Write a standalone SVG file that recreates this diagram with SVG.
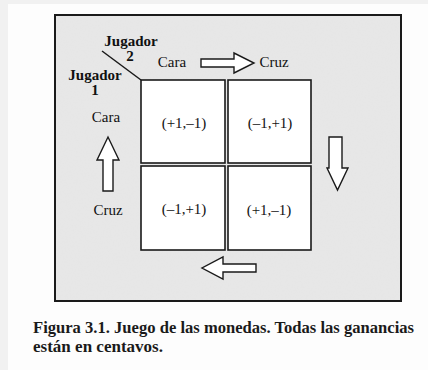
<svg xmlns="http://www.w3.org/2000/svg" width="428" height="370" viewBox="0 0 428 370">
<defs>
<filter id="grain" x="0" y="0" width="100%" height="100%">
<feTurbulence type="fractalNoise" baseFrequency="0.6" numOctaves="2" seed="3" result="n"/>
<feColorMatrix type="matrix" values="0 0 0 0 0.55  0 0 0 0 0.55  0 0 0 0 0.55  0 0 0 -1.6 0.9" in="n" result="m"/>
<feComposite in="m" in2="SourceGraphic" operator="in"/>
</filter>
</defs>
<style>
.lbl{font-family:"Liberation Serif","Times New Roman",serif;font-size:15px;fill:#111}
.b{font-weight:bold}
.cell{fill:#fff;stroke:#1a1a1a;stroke-width:1.6}
.arr{fill:#fff;stroke:#1a1a1a;stroke-width:1.4;stroke-linejoin:miter}
.val{font-family:"Liberation Serif","Times New Roman",serif;font-size:15px;fill:#111;text-anchor:middle}
.cap{font-family:"Liberation Serif","Times New Roman",serif;font-size:16.5px;font-weight:bold;fill:#1a1a1a}
</style>
<rect x="0" y="0" width="428" height="370" fill="#fdfdfd"/>
<rect x="0" y="0" width="8" height="370" fill="#f1f1f1"/>
<rect x="0" y="0" width="428" height="4" fill="#f1f1f1"/>
<g id="frame">
<rect x="55" y="15" width="346" height="286" fill="#e7e7e7" stroke="#1a1a1a" stroke-width="2"/>
<rect x="56" y="16" width="344" height="284" fill="#000" opacity="0.05" filter="url(#grain)"/>
</g>
<g id="header">
<line x1="102" y1="51" x2="141" y2="80" stroke="#1a1a1a" stroke-width="1.5"/>
<text class="lbl b" x="131" y="46" text-anchor="middle">Jugador</text>
<text class="lbl b" x="130" y="61" text-anchor="middle">2</text>
<text class="lbl b" x="95" y="80" text-anchor="middle">Jugador</text>
<text class="lbl b" x="95" y="95" text-anchor="middle">1</text>
<text class="lbl" x="172" y="67" text-anchor="middle">Cara</text>
<text class="lbl" x="274" y="67" text-anchor="middle">Cruz</text>
<text class="lbl" x="106" y="122" text-anchor="middle">Cara</text>
<text class="lbl" x="108" y="215" text-anchor="middle">Cruz</text>
</g>
<g id="cell-cara-cara">
<rect class="cell" x="141" y="80" width="84" height="83"/>
<text class="val" x="184" y="128">(+1,–1)</text>
</g>
<g id="cell-cara-cruz">
<rect class="cell" x="228" y="80" width="83" height="83"/>
<text class="val" x="270" y="128">(–1,+1)</text>
</g>
<g id="cell-cruz-cara">
<rect class="cell" x="141" y="166" width="84" height="84"/>
<text class="val" x="184" y="214">(–1,+1)</text>
</g>
<g id="cell-cruz-cruz">
<rect class="cell" x="228" y="166" width="83" height="84"/>
<text class="val" x="269" y="215">(+1,–1)</text>
</g>
<g id="connectors">
<polygon class="arr" points="201,59 234,59 234,53 254,63 234,73 234,67 201,67"/>
<polygon class="arr" points="329,137 342,137 342,168 348,168 337.5,190 327,168 329,168"/>
<polygon class="arr" points="256,264 223,264 223,257 202,268 223,279 223,272 256,272"/>
<polygon class="arr" points="103,191 113,191 113,160 119,160 108,137 97,160 103,160"/>
</g>
<g id="caption">
<text class="cap" x="33" y="333" textLength="381" lengthAdjust="spacingAndGlyphs">Figura 3.1. Juego de las monedas. Todas las ganancias</text>
<text class="cap" x="33" y="352" textLength="130" lengthAdjust="spacingAndGlyphs">están en centavos.</text>
</g>
</svg>
